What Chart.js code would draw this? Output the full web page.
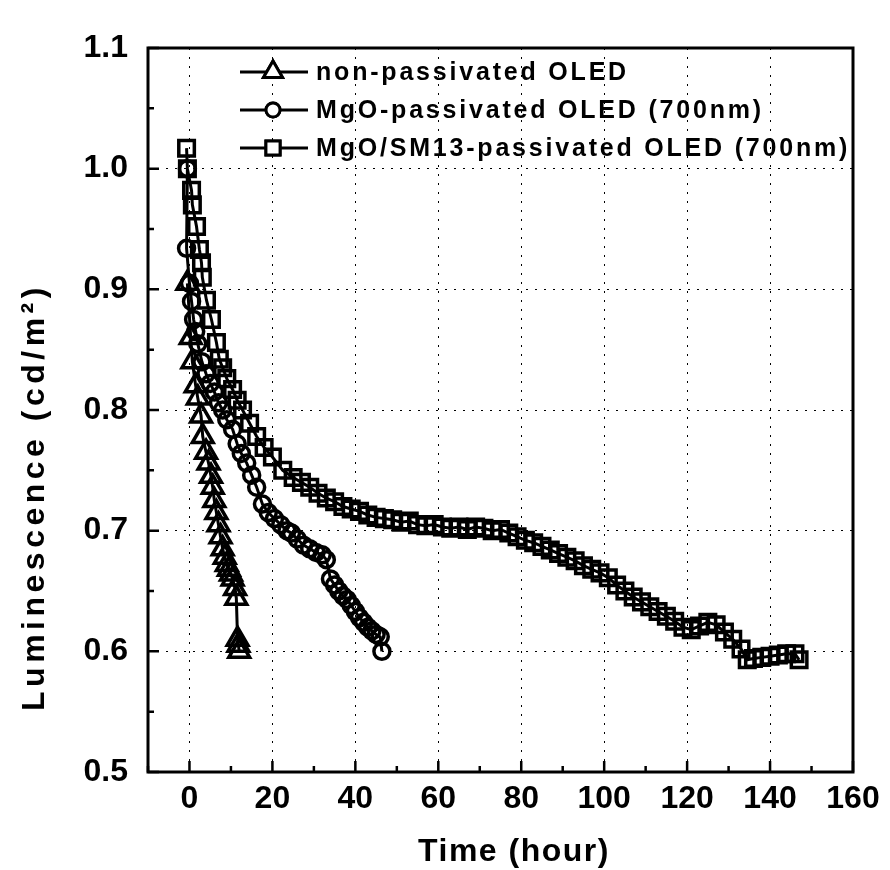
<!DOCTYPE html>
<html>
<head>
<meta charset="utf-8">
<script src="https://cdn.jsdelivr.net/npm/chart.js@4.4.0/dist/chart.umd.min.js"></script>
<style>
  html, body { margin: 0; padding: 0; background: #fff; }
  #wrap { width: 890px; height: 870px; position: relative; }
</style>
</head>
<body>
<div id="wrap"><canvas id="chart"></canvas></div>
<script>
'use strict';
// ---- data ----
var xTicks = [0, 20, 40, 60, 80, 100, 120, 140, 160];
var yTicks = [0.5, 0.6, 0.7, 0.8, 0.9, 1.0, 1.1];
var seriesNames = ['non-passivated OLED', 'MgO-passivated OLED (700nm)', 'MgO/SM13-passivated OLED (700nm)'];
var xTitle = 'Time (hour)';
var yTitle = 'Luminescence (cd/m\u00B2)';

var triX = [-0.5, 0.3, 0.7, 1.5, 2.0, 2.8, 3.2, 4.0, 4.6, 5.2, 5.6, 6.0, 6.5, 7.0, 7.5, 8.0, 8.5, 9.0, 9.5, 10.0, 10.4, 11.0, 11.3, 11.6, 11.8, 12.0];
var triY = [0.905, 0.86, 0.84, 0.82, 0.81, 0.795, 0.778, 0.765, 0.756, 0.745, 0.736, 0.725, 0.715, 0.705, 0.695, 0.685, 0.678, 0.672, 0.668, 0.664, 0.660, 0.652, 0.644, 0.610, 0.605, 0.600];

var circX = [-0.5, -0.7, 0, 0.5, 1.0, 1.5, 2.0, 3.0, 4.0, 5.0, 6.0, 7.0, 8.0, 9.0, 10.4, 11.5, 12.5, 13.8, 15.0, 16.2, 17.6, 19.0, 20.5, 22.0, 23.5, 24.6, 26.0, 27.5, 29.0, 30.5, 32.0, 33.0, 34.0, 35.0, 36.0, 37.0, 38.0, 39.0, 40.0, 41.0, 42.0, 43.0, 44.0, 45.0, 46.0, 46.4];
var circY = [1.0, 0.934, 0.905, 0.89, 0.875, 0.865, 0.855, 0.84, 0.83, 0.822, 0.815, 0.806, 0.80, 0.792, 0.784, 0.772, 0.764, 0.756, 0.746, 0.736, 0.722, 0.715, 0.71, 0.705, 0.70, 0.698, 0.693, 0.688, 0.685, 0.682, 0.68, 0.676, 0.66, 0.655, 0.65, 0.646, 0.643, 0.638, 0.633, 0.628, 0.624, 0.62, 0.617, 0.614, 0.612, 0.600];

var sqX = [-0.7, -0.5, 0.5, 0.7, 1.7, 2.4, 2.9, 3.1, 4.1, 5.3, 6.5, 7.2, 8.0, 9.0, 10.4, 11.5, 12.8, 14.5, 16.2, 18.0,
           20, 22.5, 25, 27, 29, 31, 33, 35, 37, 39, 41, 43, 45, 47, 49, 51, 53, 55, 57, 59,
           61, 63, 65, 67, 69, 71, 73, 75, 77, 79, 81, 83, 85, 87, 89, 91, 93, 95, 97, 99,
           101, 103, 105, 107, 109, 111, 113, 115, 117, 119, 121, 123, 125, 127, 129, 131, 133, 134.5, 136, 138,
           140, 142, 144, 146, 147];
var sqY = [1.017, 1.0, 0.982, 0.97, 0.952, 0.933, 0.922, 0.91, 0.891, 0.875, 0.856, 0.842, 0.835, 0.826, 0.817, 0.808, 0.80, 0.789, 0.778, 0.769,
           0.761, 0.75, 0.744, 0.74, 0.736, 0.731, 0.727, 0.724, 0.72, 0.718, 0.716, 0.713, 0.711, 0.71, 0.709, 0.707, 0.708, 0.705, 0.704, 0.705,
           0.703, 0.702, 0.703, 0.701, 0.703, 0.702, 0.700, 0.701, 0.698, 0.695, 0.692, 0.690, 0.687, 0.684, 0.681, 0.678, 0.675, 0.671, 0.668, 0.665,
           0.661, 0.655, 0.650, 0.645, 0.641, 0.637, 0.633, 0.629, 0.625, 0.620, 0.618, 0.621, 0.624, 0.622, 0.616, 0.610, 0.602, 0.593, 0.594, 0.595,
           0.596, 0.597, 0.598, 0.598, 0.593];

function pts(xs, ys) {
  var out = [];
  for (var i = 0; i < xs.length; i++) out.push({x: xs[i], y: ys[i]});
  return out;
}

var FONT = "'Liberation Sans', Arial, sans-serif";
var styles = ['triangle', 'circle', 'rect'];
var radii = [12, 8, 11];

function ds(i, data) {
  return {
    label: seriesNames[i], data: data, showLine: true,
    borderColor: '#000', borderWidth: 3,
    pointStyle: styles[i], pointRadius: radii[i], pointBorderWidth: 3.5,
    pointBorderColor: '#000', pointBackgroundColor: 'rgba(255,255,255,0)'
  };
}

// frame, inward ticks, axis titles
var framePlugin = {
  id: 'frame',
  afterDraw: function(chart) {
    var ctx = chart.ctx, a = chart.chartArea;
    var xs = chart.scales.x, ys = chart.scales.y;
    ctx.save();
    ctx.strokeStyle = '#000';
    ctx.lineWidth = 3;
    ctx.strokeRect(a.left, a.top, a.right - a.left, a.bottom - a.top);
    ctx.lineWidth = 2.5;
    ctx.beginPath();
    var v, p;
    for (v = -10; v <= 160; v += 10) {
      p = xs.getPixelForValue(v);
      var len = (v % 20 === 0) ? 11 : 6;
      ctx.moveTo(p, a.bottom); ctx.lineTo(p, a.bottom - len);
    }
    for (var k = 0; k <= 12; k++) {
      v = 0.5 + k * 0.05;
      p = ys.getPixelForValue(v);
      var l2 = (k % 2 === 0) ? 11 : 6;
      ctx.moveTo(a.left, p); ctx.lineTo(a.left + l2, p);
    }
    ctx.stroke();

    ctx.fillStyle = '#000';
    ctx.font = 'bold 32px ' + FONT;
    ctx.letterSpacing = '1.5px';
    ctx.textAlign = 'center';
    ctx.textBaseline = 'middle';
    ctx.fillText(xTitle, 514, 852);
    ctx.translate(35, 497);
    ctx.rotate(-Math.PI / 2);
    ctx.letterSpacing = '4.5px';
    ctx.fillText(yTitle, 0, 0);
    ctx.restore();
  }
};

// legend drawn inside the plot, upper part
var legendPlugin = {
  id: 'inlegend',
  afterDatasetsDraw: function(chart) {
    var ctx = chart.ctx;
    var rows = [72, 110, 148];
    ctx.save();
    for (var i = 0; i < seriesNames.length; i++) {
      var y = rows[i];
      ctx.strokeStyle = '#000';
      ctx.lineWidth = 3;
      ctx.beginPath(); ctx.moveTo(240, y); ctx.lineTo(308, y); ctx.stroke();
      Chart.helpers.drawPoint(ctx, {
        pointStyle: styles[i], radius: radii[i] - 1, rotation: 0, borderWidth: 3
      }, 273, y);
      ctx.fillStyle = '#fff';
      ctx.fill();
      ctx.stroke();
      ctx.fillStyle = '#000';
      ctx.font = 'bold 25px ' + FONT;
      ctx.letterSpacing = '2.8px';
      ctx.textAlign = 'left';
      ctx.textBaseline = 'middle';
      ctx.fillText(seriesNames[i], 316, y + 1);
    }
    ctx.restore();
  }
};

new Chart(document.getElementById('chart'), {
  type: 'scatter',
  data: { datasets: [ds(0, pts(triX, triY)), ds(1, pts(circX, circY)), ds(2, pts(sqX, sqY))] },
  options: {
    responsive: true, maintainAspectRatio: false, animation: false,
    layout: { padding: { top: 48, right: 37, left: 0, bottom: 0 } },
    plugins: { legend: { display: false }, tooltip: { enabled: false } },
    scales: {
      x: {
        type: 'linear', min: -10, max: 160,
        afterBuildTicks: function(s) { s.ticks = xTicks.map(function(v) { return {value: v}; }); },
        afterFit: function(s) { s.height = 98; },
        grid: { color: '#000', lineWidth: 1, drawTicks: false },
        border: { display: false, dash: [2, 7] },
        ticks: { color: '#000', padding: 8, maxRotation: 0, font: { family: FONT, size: 32, weight: 'bold' } }
      },
      y: {
        type: 'linear', min: 0.5, max: 1.1,
        afterBuildTicks: function(s) { s.ticks = yTicks.map(function(v) { return {value: v}; }); },
        afterFit: function(s) { s.width = 148; },
        grid: { color: '#000', lineWidth: 1, drawTicks: false },
        border: { display: false, dash: [2, 7] },
        ticks: { color: '#000', padding: 20, font: { family: FONT, size: 32, weight: 'bold' },
                 callback: function(v) { return v.toFixed(1); } }
      }
    }
  },
  plugins: [framePlugin, legendPlugin]
});
</script>
</body>
</html>
